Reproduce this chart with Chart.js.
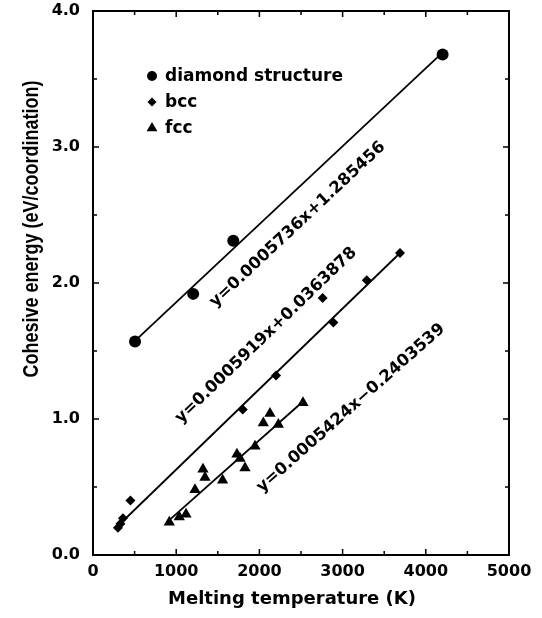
<!DOCTYPE html>
<html>
<head>
<meta charset="utf-8">
<script src="https://cdn.jsdelivr.net/npm/chart.js@4/dist/chart.umd.min.js"></script>
<style>
  html, body { margin: 0; padding: 0; background: #fff; }
  #wrap { width: 542px; height: 618px; }
</style>
</head>
<body>
<div id="wrap"><canvas id="cohesiveChart"></canvas></div>
<script>
// cohesive energy vs melting temperature, three crystal structures
const diamondTemp = [505, 1204, 1686, 4202];
const diamondEnergy = [1.57, 1.92, 2.31, 3.68];

const bccTemp = [300, 330, 360, 450, 1800, 2200, 2760, 2889, 3290, 3690];
const bccEnergy = [0.20, 0.23, 0.27, 0.40, 1.07, 1.32, 1.89, 1.71, 2.02, 2.22];

const fccTemp = [917, 1037, 1118, 1226, 1322, 1346, 1558, 1730, 1767, 1827, 1947, 2047, 2127, 2228, 2524];
const fccEnergy = [0.24, 0.28, 0.30, 0.48, 0.63, 0.57, 0.55, 0.74, 0.71, 0.64, 0.80, 0.97, 1.04, 0.96, 1.12];

// linear fits as printed on the chart
const fitSlope = [0.0005736, 0.0005919, 0.0005424];
const fitIntercept = [1.285456, 0.0363878, -0.2403539];
const fitFrom = [505, 280, 910];
const fitTo = [4200, 3690, 2520];
const fitLabels = ["y=0.0005736x+1.285456", "y=0.0005919x+0.0363878", "y=0.0005424x\u22120.2403539"];

const legendNames = ["diamond structure", "bcc", "fcc"];
const xTicks = [0, 1000, 2000, 3000, 4000, 5000];
const yTicks = [0, 1, 2, 3, 4];

const FONT = '"DejaVu Sans", "Liberation Sans", Arial, sans-serif';
const FONT_Y = '"Liberation Sans", Arial, sans-serif';
Chart.defaults.font.family = FONT;
Chart.defaults.color = '#000';

function pts(xs, ys) {
    return xs.map((v, i) => ({ x: v, y: ys[i] }));
}

function fitLine(i) {
    return [
        { x: fitFrom[i], y: fitSlope[i] * fitFrom[i] + fitIntercept[i] },
        { x: fitTo[i], y: fitSlope[i] * fitTo[i] + fitIntercept[i] }
    ];
}

function marker(ctx, style, x, y, r) {
    ctx.beginPath();
    if (style === 'circle') {
        ctx.arc(x, y, r, 0, Math.PI * 2);
    } else if (style === 'diamond') {
        ctx.moveTo(x, y - r); ctx.lineTo(x + r, y); ctx.lineTo(x, y + r); ctx.lineTo(x - r, y);
    } else {
        ctx.moveTo(x, y - r); ctx.lineTo(x + r * 0.9, y + r * 0.55); ctx.lineTo(x - r * 0.9, y + r * 0.55);
    }
    ctx.closePath();
    ctx.fill();
}

const overlay = {
    id: 'overlay',
    afterDraw(chart) {
        const { ctx, chartArea: a, scales: { x, y } } = chart;
        ctx.save();
        ctx.strokeStyle = '#000';
        ctx.fillStyle = '#000';

        // frame
        ctx.lineWidth = 2;
        ctx.strokeRect(a.left, a.top, a.right - a.left, a.bottom - a.top);

        // inward ticks, major and minor
        ctx.lineWidth = 1.5;
        ctx.beginPath();
        for (let v = 0; v <= 5000; v += 500) {
            const px = x.getPixelForValue(v);
            const len = v % 1000 === 0 ? 6 : 4;
            ctx.moveTo(px, a.bottom); ctx.lineTo(px, a.bottom - len);
            ctx.moveTo(px, a.top); ctx.lineTo(px, a.top + len);
        }
        for (let v = 0; v <= 4; v += 0.5) {
            const py = y.getPixelForValue(v);
            const len = v % 1 === 0 ? 6 : 4;
            ctx.moveTo(a.left, py); ctx.lineTo(a.left + len, py);
            ctx.moveTo(a.right, py); ctx.lineTo(a.right - len, py);
        }
        ctx.stroke();

        // equation labels along each fit line
        const anchors = chart.options.plugins.overlay.anchors;
        ctx.font = 'bold 16.5px ' + FONT;
        ctx.textAlign = 'center';
        ctx.textBaseline = 'middle';
        fitLabels.forEach((txt, i) => {
            const p1 = { x: x.getPixelForValue(fitFrom[i]), y: y.getPixelForValue(fitSlope[i] * fitFrom[i] + fitIntercept[i]) };
            const p2 = { x: x.getPixelForValue(fitTo[i]), y: y.getPixelForValue(fitSlope[i] * fitTo[i] + fitIntercept[i]) };
            const ang = Math.atan2(p2.y - p1.y, p2.x - p1.x);
            ctx.save();
            ctx.translate(x.getPixelForValue(anchors[i][0]), y.getPixelForValue(anchors[i][1]));
            ctx.rotate(ang);
            ctx.fillText(txt, 0, 0);
            ctx.restore();
        });

        // legend inside the plot
        const styles = ['circle', 'diamond', 'triangle'];
        const sizes = [5, 4.5, 6];
        ctx.font = 'bold 17px ' + FONT;
        ctx.textAlign = 'left';
        legendNames.forEach((name, i) => {
            const ly = 76 + i * 26;
            marker(ctx, styles[i], 152, ly, sizes[i]);
            ctx.fillText(name, 165, ly + 1);
        });

        // axis titles
        ctx.textAlign = 'center';
        ctx.font = 'bold 18px ' + FONT;
        ctx.fillText('Melting temperature (K)', 292, 599);
        ctx.save();
        ctx.translate(32, 229);
        ctx.rotate(-Math.PI / 2);
        ctx.scale(1, 1.2);
        ctx.font = 'bold 18px ' + FONT_Y;
        ctx.fillText('Cohesive energy (eV/coordination)', 0, 0);
        ctx.restore();

        ctx.restore();
    }
};

const ctx = document.getElementById('cohesiveChart').getContext('2d');

new Chart(ctx, {
    type: 'scatter',
    data: {
        datasets: [
            { label: legendNames[0], data: pts(diamondTemp, diamondEnergy), pointStyle: 'circle', pointRadius: 6, backgroundColor: '#000', borderColor: '#000', borderWidth: 0 },
            { label: legendNames[1], data: pts(bccTemp, bccEnergy), pointStyle: 'rectRot', pointRadius: 5, backgroundColor: '#000', borderColor: '#000', borderWidth: 0 },
            { label: legendNames[2], data: pts(fccTemp, fccEnergy), pointStyle: 'triangle', pointRadius: 6.5, backgroundColor: '#000', borderColor: '#000', borderWidth: 0 },
            { label: 'fit diamond', data: fitLine(0), showLine: true, pointRadius: 0, borderColor: '#000', borderWidth: 1.8 },
            { label: 'fit bcc', data: fitLine(1), showLine: true, pointRadius: 0, borderColor: '#000', borderWidth: 1.8 },
            { label: 'fit fcc', data: fitLine(2), showLine: true, pointRadius: 0, borderColor: '#000', borderWidth: 1.8 }
        ]
    },
    options: {
        responsive: true,
        maintainAspectRatio: false,
        animation: false,
        layout: { padding: { top: 11, right: 33, bottom: 0, left: 0 } },
        plugins: {
            legend: { display: false },
            tooltip: { enabled: false },
            overlay: { anchors: [[2460, 2.43], [2080, 1.615], [3100, 1.08]] }
        },
        scales: {
            x: {
                type: 'linear', min: 0, max: 5000,
                afterBuildTicks: s => { s.ticks = xTicks.map(v => ({ value: v })); },
                afterFit: s => { s.height = 63; },
                grid: { display: false, drawTicks: true, tickLength: 7 },
                border: { display: false },
                ticks: { maxRotation: 0, autoSkip: false, padding: 0, color: '#000', font: { size: 16, weight: 'bold' }, callback: v => String(v) }
            },
            y: {
                type: 'linear', min: 0, max: 4,
                afterBuildTicks: s => { s.ticks = yTicks.map(v => ({ value: v })); },
                afterFit: s => { s.width = 93; },
                grid: { display: false, drawTicks: true, tickLength: 13 },
                border: { display: false },
                ticks: { autoSkip: false, padding: 0, color: '#000', font: { size: 16, weight: 'bold' }, callback: v => Number(v).toFixed(1) }
            }
        }
    },
    plugins: [overlay]
});
</script>
</body>
</html>
